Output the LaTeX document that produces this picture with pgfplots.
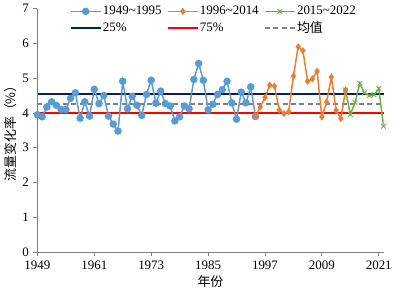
\documentclass[border=0pt]{standalone}
\usepackage{fontspec}
\setmainfont{Liberation Serif}
\newfontfamily\cjk{Noto Sans CJK SC}
\usepackage{pgfplots}
\pgfplotsset{compat=1.18}
\definecolor{cblue}{HTML}{5B9BD5}
\definecolor{corange}{HTML}{ED7D31}
\definecolor{cgreen}{HTML}{70AD47}
\definecolor{cnavy}{HTML}{002060}
\definecolor{cred}{HTML}{FF0000}
\definecolor{cgray}{HTML}{808080}
\definecolor{caxis}{HTML}{7F7F7F}
\begin{document}
\fontsize{13}{15}\selectfont
\begin{tikzpicture}
\begin{axis}[
  set layers,
  scale only axis,
  width=348pt, height=245pt,
  xmin=1949, xmax=2022, ymin=0, ymax=7,
  axis lines*=left,
  axis line style={caxis, line width=0.8pt},
  tick style={caxis, line width=0.8pt},
  tick align=outside,
  major tick length=4pt,
  xtick={1949,1961,1973,1985,1997,2009,2021},
  ytick={0,1,2,3,4,5,6,7},
  /pgf/number format/1000 sep={},
  /pgf/number format/assume math mode=true,
  tick label style={font=\fontsize{13}{15}\selectfont},
  xlabel={\cjk 年份},
  ylabel={\cjk 流量变化率（\%）},
  label style={font=\fontsize{13}{15}\selectfont},
  xlabel style={yshift=3pt},
  ylabel style={yshift=-3pt},
  legend columns=3,
  legend cell align=left,
  legend style={draw=none, fill=none, at={(axis description cs:0.085,1.025)}, anchor=north west,
    font=\fontsize{13}{15}\selectfont,
    nodes={text width=58pt, inner sep=1.5pt},
    /tikz/every even column/.append style={column sep=5pt},
    row sep=2pt},
  legend image code/.code={\draw[mark repeat=2,mark phase=2,#1] plot coordinates {(0pt,0pt) (15pt,0pt) (30pt,0pt)};},
]
\addplot[cblue, line width=1.5pt, mark=*, mark size=3pt, mark options={solid, fill=cblue, draw=cblue}] coordinates {
(1949,3.95) (1950,3.89) (1951,4.17) (1952,4.32) (1953,4.22) (1954,4.10) (1955,4.10) (1956,4.42)
(1957,4.58) (1958,3.85) (1959,4.32) (1960,3.91) (1961,4.68) (1962,4.27) (1963,4.50) (1964,3.91)
(1965,3.68) (1966,3.48) (1967,4.91) (1968,4.12) (1969,4.48) (1970,4.22) (1971,3.93) (1972,4.53)
(1973,4.94) (1974,4.28) (1975,4.63) (1976,4.27) (1977,4.20) (1978,3.77) (1979,3.89) (1980,4.20)
(1981,4.12) (1982,4.96) (1983,5.42) (1984,4.94) (1985,4.09) (1986,4.25) (1987,4.53) (1988,4.67)
(1989,4.91) (1990,4.29) (1991,3.82) (1992,4.60) (1993,4.29) (1994,4.75) (1995,3.90)
};
\addlegendentry{1949\textasciitilde1995}
\addplot[corange, line width=1.5pt, mark=diamond*, mark size=2.4pt, mark options={solid, fill=corange, draw=corange}] coordinates {
(1995,3.90) (1996,4.17) (1997,4.44) (1998,4.80) (1999,4.77) (2000,4.09) (2001,3.98) (2002,4.04)
(2003,5.06) (2004,5.90) (2005,5.79) (2006,4.91) (2007,4.98) (2008,5.20) (2009,3.89) (2010,4.31)
(2011,5.03) (2012,4.08) (2013,3.84) (2014,4.66)
};
\addlegendentry{1996\textasciitilde2014}
\addplot[cgreen, line width=1.5pt, mark=x, mark size=3.3pt, mark options={solid, line width=0.9pt}] coordinates {
(2014,4.66) (2015,3.96) (2016,4.30) (2017,4.85) (2018,4.58) (2019,4.50) (2020,4.52) (2021,4.70) (2022,3.62)
};
\addlegendentry{2015\textasciitilde2022}
\addplot[cnavy, line width=1.6pt, on layer=axis background] coordinates {(1949,4.55) (2022,4.55)};
\addlegendentry{25\%}
\addplot[cred, line width=1.6pt, on layer=axis background] coordinates {(1949,4.00) (2022,4.00)};
\addlegendentry{75\%}
\addplot[cgray, line width=1.6pt, dash pattern=on 5pt off 3.5pt, on layer=axis background] coordinates {(1949,4.25) (2022,4.25)};
\addlegendentry{\cjk 均值}
\end{axis}
\end{tikzpicture}
\end{document}
